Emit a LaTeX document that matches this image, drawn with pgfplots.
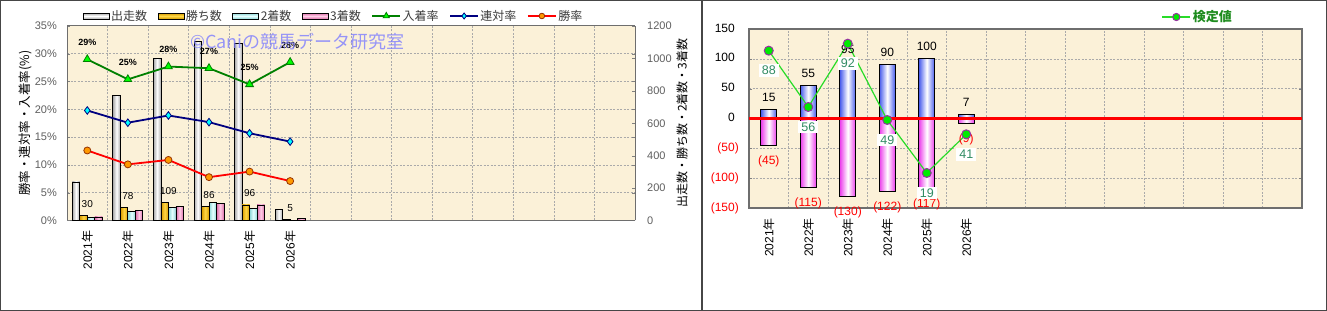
\documentclass[border=0pt]{standalone}
\usepackage{pgfplots}
\pgfplotsset{compat=1.18}
\usepackage{fontspec}
\setmainfont{Liberation Sans}
\newfontfamily\jp{Noto Sans CJK JP}
\definecolor{bgc}{RGB}{251,241,216}
\definecolor{gridc}{RGB}{170,170,170}
\definecolor{framec}{RGB}{70,70,70}
\definecolor{axc}{RGB}{110,110,110}
\definecolor{tickc}{RGB}{95,95,95}
\definecolor{legtext}{RGB}{60,60,60}
\definecolor{grayd}{RGB}{170,170,170}
\definecolor{goldd}{RGB}{215,155,0}
\definecolor{goldl}{RGB}{255,215,70}
\definecolor{cyand}{RGB}{140,215,215}
\definecolor{cyanl}{RGB}{230,255,255}
\definecolor{pinkd}{RGB}{220,110,170}
\definecolor{pinkl}{RGB}{255,205,230}
\definecolor{dkgreen}{RGB}{0,128,0}
\definecolor{limec}{RGB}{0,255,0}
\definecolor{navyc}{RGB}{0,0,128}
\definecolor{cyanm}{RGB}{0,255,255}
\definecolor{orangec}{RGB}{255,153,0}
\definecolor{brownc}{RGB}{150,50,0}
\definecolor{bluec}{RGB}{70,90,235}
\definecolor{magc}{RGB}{235,60,235}
\definecolor{lgreen}{RGB}{40,220,40}
\definecolor{mgreen}{RGB}{0,235,0}
\definecolor{purplec}{RGB}{150,50,160}
\definecolor{tealc}{RGB}{50,140,100}
\definecolor{wmc}{RGB}{125,125,255}
\definecolor{leggreen}{RGB}{30,140,30}
\newcommand\nen{{\jp 年}}
\pgfplotsset{
  barimg/.style={legend image code/.code={\draw[##1] (0bp,-3bp) rectangle (26bp,3bp);}},
  lineimg/.style={legend image code/.code={\draw[##1, mark repeat=2, mark phase=2, /tikz/every mark/.append style={scale=0.8}] plot coordinates {(0bp,0bp) (14bp,0bp) (28bp,0bp)};}},
  tickfont/.style={font=\fontsize{11bp}{13bp}\selectfont},
  xlabs/.style={
    xtick={0,...,5},
    xticklabels={2021\nen,2022\nen,2023\nen,2024\nen,2025\nen,2026\nen},
    xticklabel style={rotate=90, anchor=east, inner sep=0pt, font=\fontsize{12bp}{14bp}\selectfont},
    xticklabel shift=10bp,
    xtick style={draw=none},
    minor xtick={-0.5,0.5,...,13.5},
    xminorgrids,
  },
  gstyle/.style={gridc, dash pattern=on 2bp off 1.5bp, line width=0.6bp},
  % left chart bar series
  lbar/.style={ybar, bar width=7.5bp, draw=black, line width=0.8bp, forget plot},
  s1/.style={lbar, bar shift=-11.25bp, left color=grayd, right color=grayd, middle color=white},
  s2/.style={lbar, bar shift=-3.75bp, left color=goldd, right color=goldd, middle color=goldl,
    nodes near coords,
    every node near coord/.append style={font=\fontsize{10bp}{12bp}\selectfont, text=black, anchor=center, yshift=12bp}},
  s3/.style={lbar, bar shift=3.75bp, left color=cyand, right color=cyand, middle color=cyanl},
  s4/.style={lbar, bar shift=11.25bp, left color=pinkd, right color=pinkd, middle color=pinkl},
  % right chart bars
  rbar/.style={ybar, bar width=16bp, bar shift=0pt, draw=black, line width=1bp, forget plot},
  rpos/.style={rbar, left color=bluec, right color=bluec, middle color=white,
    nodes near coords,
    every node near coord/.append style={font=\fontsize{12bp}{14bp}\selectfont, text=black, anchor=center, yshift=12bp}},
  rneg/.style={rbar, left color=magc, right color=magc, middle color=white,
    point meta=explicit,
    nodes near coords={(\pgfmathprintnumber{\pgfplotspointmeta})},
    every node near coord/.append style={font=\fontsize{12bp}{14bp}\selectfont, text=red, anchor=center, yshift=-16bp}},
}
\begin{document}
\begin{tikzpicture}
\path[use as bounding box] (0,0) rectangle (1327bp,311bp);
\fill[white] (0,0) rectangle (1327bp,311bp);

% ---------- left chart: counts (right axis) ----------
\begin{axis}[
  at={(67bp,90.5bp)}, anchor=south west,
  scale only axis, width=568bp, height=194.5bp,
  xmin=-0.5, xmax=13.5, ymin=0, ymax=1200,
  clip=false,
  /pgf/number format/assume math mode=true,
  axis background/.style={fill=bgc},
  axis y line*=right,
  axis line style={draw=axc, line width=1bp},
  ytick={0,200,...,1200},
  yticklabels={0,200,400,600,800,1000,1200},
  yticklabel style={tickfont, text=tickc, inner sep=0pt, anchor=west},
  yticklabel shift=12bp,
  xlabs,
  minor grid style={gstyle},
  major grid style={gstyle},
  extra y ticks={171.4286,342.8571,514.2857,685.7143,857.1429,1028.5714},
  extra y tick labels={},
  extra y tick style={grid=major},
  major tick length=3bp, minor tick length=0pt,
  tick align=inside,
  ylabel={\jp 出走数・勝ち数・2着数・3着数},
  ylabel style={at={(axis description cs:1.0827,0.5)}, anchor=center, font=\fontsize{12bp}{14bp}\selectfont},
]
% 出走数
\addplot[s1] coordinates {(0,238)};
\addplot[s1] coordinates {(1,772)};
\addplot[s1] coordinates {(2,1000)};
\addplot[s1] coordinates {(3,1103)};
\addplot[s1] coordinates {(4,1091)};
\addplot[s1] coordinates {(5,70)};
% 勝ち数
\addplot[s2] coordinates {(0,30)};
\addplot[s2] coordinates {(1,78)};
\addplot[s2] coordinates {(2,109)};
\addplot[s2] coordinates {(3,86)};
\addplot[s2] coordinates {(4,96)};
\addplot[s2] coordinates {(5,5)};
% 2着数
\addplot[s3] coordinates {(0,17)};
\addplot[s3] coordinates {(1,58)};
\addplot[s3] coordinates {(2,80)};
\addplot[s3] coordinates {(3,110)};
\addplot[s3] coordinates {(4,75)};
\addplot[s3] coordinates {(5,3)};
% 3着数
\addplot[s4] coordinates {(0,22)};
\addplot[s4] coordinates {(1,62)};
\addplot[s4] coordinates {(2,85)};
\addplot[s4] coordinates {(3,104)};
\addplot[s4] coordinates {(4,96)};
\addplot[s4] coordinates {(5,12)};
\end{axis}

% ---------- left chart: rates (left axis) ----------
\begin{axis}[
  at={(67bp,90.5bp)}, anchor=south west,
  scale only axis, width=568bp, height=194.5bp,
  xmin=-0.5, xmax=13.5, ymin=0, ymax=35,
  clip=false,
  axis x line=none,
  axis y line*=left,
  axis line style={draw=axc, line width=1bp},
  ytick={0,5,...,35},
  yticklabels={0\%,5\%,10\%,15\%,20\%,25\%,30\%,35\%},
  yticklabel style={tickfont, text=tickc, inner sep=0pt, anchor=east},
  yticklabel shift=10bp,
  major tick length=3bp, tick align=inside,
  ylabel={\jp 勝率・連対率・入着率(\%)},
  ylabel style={at={(axis description cs:-0.0739,0.5)}, anchor=center, font=\fontsize{12.5bp}{14bp}\selectfont},
  legend style={at={(axis description cs:0.0276,1.0514)}, anchor=west, draw=none, fill=none,
    legend columns=-1, inner sep=0pt, font=\jp\fontsize{12bp}{14bp}\selectfont, text=legtext,
    /tikz/every even column/.append style={column sep=9bp},
    nodes={inner xsep=1.5bp, inner ysep=0pt}},
]
\addlegendimage{barimg, draw=black, line width=0.8bp, top color=grayd, bottom color=grayd, middle color=white}
\addlegendentry{出走数}
\addlegendimage{barimg, draw=black, line width=0.8bp, top color=goldd, bottom color=goldd, middle color=goldl}
\addlegendentry{勝ち数}
\addlegendimage{barimg, draw=black, line width=0.8bp, top color=cyand, bottom color=cyand, middle color=cyanl}
\addlegendentry{2着数}
\addlegendimage{barimg, draw=black, line width=0.8bp, top color=pinkd, bottom color=pinkd, middle color=pinkl}
\addlegendentry{3着数}
\addplot[color=dkgreen, line width=1.8bp, mark=triangle*, mark size=4.5bp,
  mark options={fill=limec, draw=dkgreen, line width=0.8bp, solid}, lineimg,
  nodes near coords={\pgfplotspointmeta\%}, point meta=explicit symbolic,
  every node near coord/.append style={font=\bfseries\fontsize{9bp}{10bp}\selectfont, text=black, anchor=center, yshift=17bp}]
  table[meta=l] {
x y l
0 29.0 29
1 25.4 25
2 27.7 28
3 27.4 27
4 24.5 25
5 28.5 28
};
\addlegendentry{入着率}
\addplot[color=navyc, line width=1.8bp, mark=diamond*, mark size=3.8bp,
  mark options={fill=cyanm, draw=navyc, line width=0.8bp, solid}, lineimg]
  coordinates {(0,19.8) (1,17.6) (2,18.9) (3,17.7) (4,15.7) (5,14.2)};
\addlegendentry{連対率}
\addplot[color=red, line width=1.8bp, mark=*, mark size=3.5bp,
  mark options={fill=orangec, draw=brownc, line width=0.8bp, solid}, lineimg]
  coordinates {(0,12.6) (1,10.1) (2,10.9) (3,7.8) (4,8.8) (5,7.1)};
\addlegendentry{勝率}
\end{axis}

\node[anchor=west, text=wmc, opacity=0.8, font=\jp\fontsize{18bp}{20bp}\selectfont, inner sep=0pt]
  at (190bp,269bp) {©Caniの競馬データ研究室};

% ---------- right chart ----------
\begin{axis}[
  at={(749bp,103bp)}, anchor=south west,
  scale only axis, width=553bp, height=179bp,
  xmin=-0.5, xmax=13.5, ymin=-150, ymax=150,
  clip=false,
  /pgf/number format/assume math mode=true,
  axis background/.style={fill=bgc},
  axis line style={draw=axc, line width=1.3bp},
  ytick={-150,-100,...,150},
  yticklabels={\textcolor{red}{(150)},\textcolor{red}{(100)},\textcolor{red}{(50)},0\phantom{)},50\phantom{)},100\phantom{)},150\phantom{)}},
  yticklabel style={font=\fontsize{12bp}{14bp}\selectfont, inner sep=0pt, anchor=east},
  yticklabel shift=10bp,
  ymajorgrids,
  major grid style={gstyle},
  minor grid style={gstyle},
  xlabs,
  major tick length=3bp, minor tick length=0pt, tick align=inside,
  legend style={at={(axis description cs:0.746,1.067)}, anchor=west, draw=none, fill=none,
    inner sep=0pt, font=\jp\bfseries\fontsize{13bp}{15bp}\selectfont, text=leggreen,
    nodes={inner xsep=2bp, inner ysep=0pt}},
]
\addplot[rpos] coordinates {(0,15)};
\addplot[rpos] coordinates {(1,55)};
\addplot[rpos] coordinates {(2,95)};
\addplot[rpos] coordinates {(3,90)};
\addplot[rpos] coordinates {(4,100)};
\addplot[rpos] coordinates {(5,7)};
\addplot[rneg] coordinates {(0,-45) [45]};
\addplot[rneg] coordinates {(1,-115) [115]};
\addplot[rneg] coordinates {(2,-130) [130]};
\addplot[rneg] coordinates {(3,-122) [122]};
\addplot[rneg] coordinates {(4,-117) [117]};
\addplot[rneg] coordinates {(5,-9) [9]};
\addplot[red, line width=3bp, forget plot] coordinates {(-0.5,0) (13.5,0)};
\addplot[lgreen, line width=1.2bp, mark=*, mark size=4.5bp,
  mark options={fill=mgreen, draw=purplec, line width=1bp}, lineimg,
  nodes near coords, point meta=explicit symbolic,
  every node near coord/.append style={fill=white, text=tealc, font=\fontsize{12.5bp}{14bp}\selectfont, inner xsep=3bp, inner ysep=2bp, anchor=center, yshift=-20bp}]
  table[meta=l] {
x y l
0 113.7 88
1 19.3 56
2 125.4 92
3 -2.5 49
4 -91.3 19
5 -26.5 41
};
\addlegendentry{検定値}
\end{axis}

\draw[framec, line width=1.3bp] (0.65bp,0.65bp) rectangle (1326.35bp,310.35bp);
\draw[framec, line width=1.3bp] (702bp,0bp) -- (702bp,311bp);
\end{tikzpicture}
\end{document}
